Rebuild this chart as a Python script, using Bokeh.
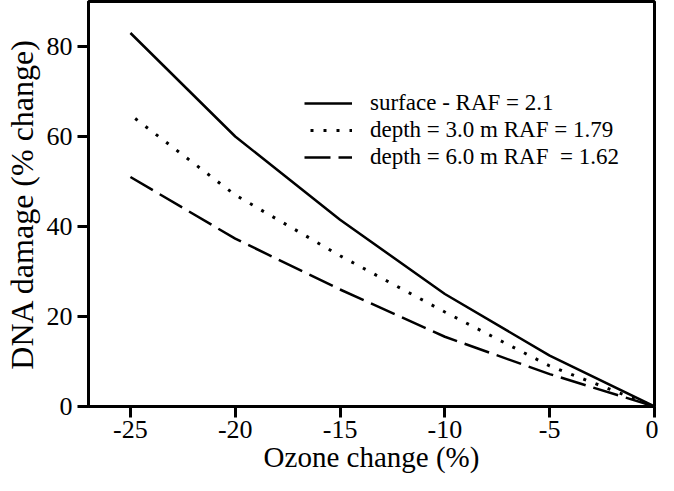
from bokeh.plotting import figure
from bokeh.models import Range1d, FixedTicker, Legend, LegendItem
from bokeh.embed import file_html
from bokeh.resources import INLINE

# Data
ozone_change = [-25, -20, -15, -10, -5, 0]
surface = [83, 60, 41.5, 25, 11.3, 0]
depth_3m = [64.8, 47, 33.5, 21, 9.0, 0]
depth_6m = [51, 37.3, 26, 15.5, 7.2, 0]

x_ticks = [-25, -20, -15, -10, -5, 0]
x_tick_labels = ["-25", "-20", "-15", "-10", "-5", "0"]
y_ticks = [0, 20, 40, 60, 80]
y_tick_labels = ["0", "20", "40", "60", "80"]

series_labels = ["surface - RAF = 2.1", "depth = 3.0 m RAF = 1.79", "depth = 6.0 m RAF  = 1.62"]

FONT = "'Liberation Serif'"

p = figure(width=658, height=475, output_backend="svg", toolbar_location=None,
           x_range=Range1d(-27, 0), y_range=Range1d(0, 90),
           min_border_left=83, min_border_right=4, min_border_top=1, min_border_bottom=10)

p.background_fill_color = "white"
p.border_fill_color = "white"
p.outline_line_color = "black"
p.outline_line_width = 3
p.xgrid.visible = False
p.ygrid.visible = False

l1 = p.line(ozone_change, surface, line_color="black", line_width=2.5)
l2 = p.line(ozone_change, depth_3m, line_color="black", line_width=3, line_dash="3 10",
            line_dash_offset=7)
l3 = p.line(ozone_change, depth_6m, line_color="black", line_width=2.5, line_dash="26 8")

for ax in (p.xaxis[0], p.yaxis[0]):
    ax.axis_line_width = 3
    ax.major_tick_line_width = 3
    ax.major_tick_out = 11
    ax.major_tick_in = 0
    ax.minor_tick_line_color = None
    ax.major_label_text_font = FONT
    ax.major_label_text_font_size = "26px"
    ax.major_label_text_color = "black"
    ax.axis_label_text_font = FONT
    ax.axis_label_text_font_style = "normal"
    ax.axis_label_text_color = "black"

p.xaxis.ticker = FixedTicker(ticks=x_ticks)
p.xaxis.major_label_overrides = dict(zip(x_ticks, x_tick_labels))
p.yaxis.ticker = FixedTicker(ticks=y_ticks)
p.yaxis.major_label_overrides = dict(zip(y_ticks, y_tick_labels))

p.xaxis.axis_label = "Ozone change (%)"
p.yaxis.axis_label = "DNA damage (% change)"
p.xaxis.axis_label_text_font_size = "29px"
p.yaxis.axis_label_text_font_size = "32px"
p.xaxis.major_label_standoff = 3
p.yaxis.major_label_standoff = 5
p.xaxis.axis_label_standoff = 0
p.yaxis.axis_label_standoff = 4

legend = Legend(items=[LegendItem(label=series_labels[0], renderers=[l1]),
                       LegendItem(label=series_labels[1], renderers=[l2]),
                       LegendItem(label=series_labels[2], renderers=[l3])],
                location=(216, 236))
legend.border_line_color = None
legend.background_fill_alpha = 0
legend.label_text_font = FONT
legend.label_text_font_size = "23px"
legend.label_text_color = "black"
legend.glyph_width = 48
legend.glyph_height = 20
legend.label_standoff = 18
legend.spacing = 1
legend.padding = 0
legend.margin = 0
p.add_layout(legend, "center")

open("out.html", "w").write(file_html(p, INLINE))
